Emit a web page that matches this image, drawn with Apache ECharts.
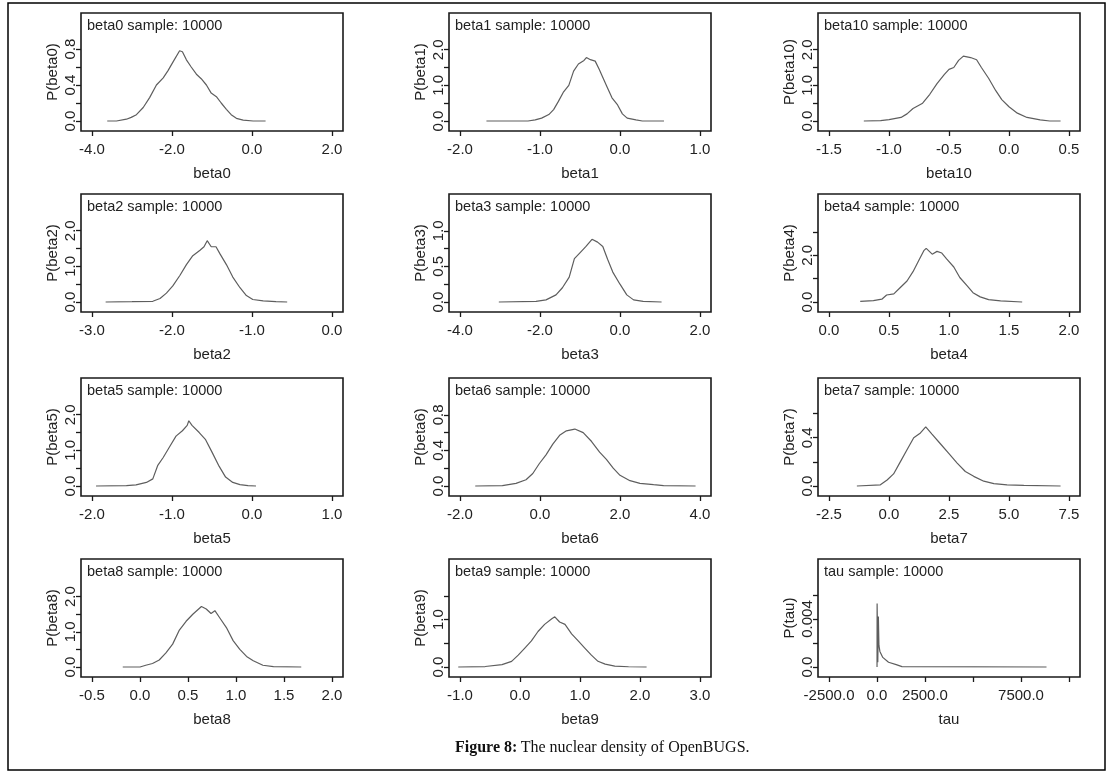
<!DOCTYPE html>
<html>
<head>
<meta charset="utf-8">
<script src="https://cdn.jsdelivr.net/npm/echarts@6/dist/echarts.min.js"></script>
<style>
html,body{margin:0;padding:0;background:#fff;}
#chart{width:1109px;height:774px;}
</style>
</head>
<body>
<div id="chart"></div>
<script>
// ---- panel names (in reading order) ----
const names = ['beta0','beta1','beta10','beta2','beta3','beta4','beta5','beta6','beta7','beta8','beta9','tau'];
const sampleSize = 10000;

// ---- density curves ----
const beta0X = [-3.62,-3.39,-3.14,-3.02,-2.89,-2.72,-2.56,-2.39,-2.22,-2.10,-1.97,-1.81,-1.74,-1.64,-1.52,-1.39,-1.27,-1.14,-1.02,-0.89,-0.77,-0.64,-0.52,-0.39,-0.22,0.03,0.34];
const beta0Y = [0,0,0.02,0.04,0.07,0.15,0.26,0.40,0.48,0.56,0.66,0.78,0.77,0.68,0.60,0.52,0.47,0.40,0.31,0.27,0.20,0.13,0.07,0.03,0.01,0,0];

const beta1X = [-1.67,-1.15,-1.06,-0.98,-0.89,-0.83,-0.77,-0.71,-0.64,-0.58,-0.52,-0.45,-0.42,-0.37,-0.31,-0.26,-0.22,-0.16,-0.10,-0.03,0.03,0.09,0.20,0.28,0.55];
const beta1Y = [0,0,0.03,0.08,0.18,0.32,0.55,0.80,1.00,1.40,1.60,1.70,1.78,1.72,1.68,1.45,1.25,0.95,0.65,0.45,0.20,0.08,0.03,0,0];

const beta10X = [-1.21,-1.07,-1.00,-0.90,-0.85,-0.80,-0.72,-0.66,-0.60,-0.54,-0.50,-0.46,-0.42,-0.38,-0.32,-0.27,-0.23,-0.17,-0.11,-0.06,0,0.07,0.15,0.26,0.34,0.43];
const beta10Y = [0,0.01,0.04,0.10,0.20,0.35,0.50,0.75,1.05,1.30,1.45,1.50,1.70,1.82,1.78,1.72,1.50,1.20,0.85,0.60,0.40,0.22,0.10,0.03,0,0];

const beta2X = [-2.83,-2.5,-2.24,-2.15,-2.07,-1.99,-1.90,-1.82,-1.74,-1.65,-1.60,-1.56,-1.51,-1.45,-1.40,-1.32,-1.24,-1.15,-1.07,-0.99,-0.86,-0.70,-0.56];
const beta2Y = [0,0.01,0.02,0.10,0.25,0.45,0.75,1.05,1.30,1.45,1.55,1.72,1.55,1.55,1.35,1.05,0.70,0.40,0.18,0.07,0.03,0.01,0];

const beta3X = [-3.03,-2.10,-1.85,-1.60,-1.44,-1.27,-1.14,-1.02,-0.85,-0.70,-0.56,-0.43,-0.31,-0.18,0,0.17,0.34,0.58,1.04];
const beta3Y = [0,0.01,0.03,0.10,0.20,0.35,0.61,0.68,0.78,0.88,0.84,0.78,0.60,0.42,0.25,0.10,0.03,0.01,0];

const beta4X = [0.26,0.37,0.44,0.48,0.54,0.59,0.65,0.70,0.75,0.79,0.81,0.86,0.90,0.94,0.98,1.04,1.09,1.15,1.20,1.26,1.33,1.43,1.61];
const beta4Y = [0.03,0.06,0.12,0.30,0.35,0.60,0.90,1.30,1.80,2.20,2.30,2.05,2.17,2.10,1.85,1.50,1.05,0.70,0.40,0.22,0.10,0.05,0];

const beta5X = [-1.95,-1.57,-1.45,-1.32,-1.24,-1.18,-1.11,-1.03,-0.95,-0.87,-0.81,-0.79,-0.75,-0.66,-0.58,-0.50,-0.41,-0.33,-0.24,-0.15,-0.05,0.05];
const beta5Y = [0,0.01,0.03,0.10,0.20,0.57,0.80,1.10,1.40,1.55,1.70,1.83,1.70,1.50,1.30,0.95,0.55,0.25,0.10,0.04,0.01,0];

const beta6X = [-1.62,-0.94,-0.60,-0.35,-0.18,-0.02,0.15,0.32,0.49,0.66,0.87,1.08,1.29,1.49,1.66,1.83,2.00,2.25,2.50,2.84,3.09,3.89];
const beta6Y = [0,0.005,0.03,0.07,0.14,0.25,0.35,0.47,0.57,0.62,0.64,0.60,0.50,0.38,0.30,0.20,0.12,0.06,0.03,0.015,0.005,0];

const beta7X = [-1.34,-0.36,-0.08,0.19,0.47,0.75,1.03,1.31,1.53,1.79,2.14,2.49,2.84,3.18,3.53,3.95,4.37,4.92,5.62,7.15];
const beta7Y = [0,0.01,0.05,0.10,0.20,0.30,0.40,0.44,0.49,0.43,0.35,0.27,0.19,0.12,0.08,0.04,0.02,0.01,0.005,0];

const beta8X = [-0.18,0.00,0.06,0.13,0.20,0.27,0.34,0.41,0.48,0.55,0.64,0.69,0.74,0.78,0.83,0.90,0.97,1.04,1.11,1.18,1.28,1.39,1.68];
const beta8Y = [0,0,0.05,0.10,0.20,0.40,0.65,1.05,1.30,1.50,1.72,1.65,1.52,1.60,1.40,1.12,0.75,0.50,0.30,0.18,0.05,0.01,0];

const beta9X = [-1.03,-0.58,-0.30,-0.14,-0.03,0.08,0.19,0.30,0.41,0.53,0.58,0.66,0.75,0.86,0.97,1.08,1.19,1.30,1.42,1.58,1.81,2.11];
const beta9Y = [0,0.01,0.05,0.12,0.25,0.40,0.55,0.75,0.90,1.02,1.06,0.95,0.90,0.70,0.55,0.40,0.25,0.12,0.06,0.02,0.005,0];

const tauX = [0,5,40,70,100,150,300,600,1000,1300,8830];
const tauY = [0,0.0053,0.0004,0.0042,0.0018,0.0013,0.0008,0.0004,0.0002,0.00003,0];

const curvesX = [beta0X,beta1X,beta10X,beta2X,beta3X,beta4X,beta5X,beta6X,beta7X,beta8X,beta9X,tauX];
const curvesY = [beta0Y,beta1Y,beta10Y,beta2Y,beta3Y,beta4Y,beta5Y,beta6Y,beta7Y,beta8Y,beta9Y,tauY];

// ---- axis ticks (tick marks) and labelled ticks ----
const xTicks = [
  [-4,-2,0,2],[-2,-1,0,1],[-1.5,-1,-0.5,0,0.5],
  [-3,-2,-1,0],[-4,-2,0,2],[0,0.5,1,1.5,2],
  [-2,-1,0,1],[-2,0,2,4],[-2.5,0,2.5,5,7.5],
  [-0.5,0,0.5,1,1.5,2],[-1,0,1,2,3],[-2500,0,2500,5000,7500,10000]
];
const xLabels = [
  [-4,-2,0,2],[-2,-1,0,1],[-1.5,-1,-0.5,0,0.5],
  [-3,-2,-1,0],[-4,-2,0,2],[0,0.5,1,1.5,2],
  [-2,-1,0,1],[-2,0,2,4],[-2.5,0,2.5,5,7.5],
  [-0.5,0,0.5,1,1.5,2],[-1,0,1,2,3],[-2500,0,2500,7500]
];
const yTicks = [
  [0,0.2,0.4,0.6,0.8],[0,0.5,1,1.5,2],[0,0.5,1,1.5,2],
  [0,0.5,1,1.5,2],[0,0.25,0.5,0.75,1],[0,1,2,3],
  [0,0.5,1,1.5,2],[0,0.2,0.4,0.6,0.8],[0,0.2,0.4,0.6],
  [0,0.5,1,1.5,2],[0,0.5,1,1.5],[0,0.002,0.004,0.006]
];
const yLabels = [
  [0,0.4,0.8],[0,1,2],[0,1,2],
  [0,1,2],[0,0.5,1],[0,2],
  [0,1,2],[0,0.4,0.8],[0,0.4],
  [0,1,2],[0,1],[0,0.004]
];
// upper end of each density axis (plot box top)
const yTop = [1.2,3.03,3.03, 3.03,1.516,4.63, 3.03,1.214,0.895, 3.07,2.28,0.009];

// ---- layout ----
const colLeft = [81,449,818];
const rowTop = [13,194,378,559];
const boxW = 262, boxH = 118;
const FONT = '"Liberation Sans", Arial, sans-serif';
const TXT = '#222';

function fmt(v){ let s = String(v); if (s.indexOf('.') < 0 && s.indexOf('e') < 0) s += '.0'; return s; }

const grids = [], xAxes = [], yAxes = [], series = [], titles = [];
names.forEach((nm, i) => {
  const c = i % 3, r = Math.floor(i / 3);
  const left = colLeft[c], top = rowTop[r];
  grids.push({ left: left, top: top, width: boxW, height: boxH, show: true,
    borderColor: '#1a1a1a', borderWidth: 1.6, backgroundColor: 'transparent', outerBoundsMode: 'none' });
  const xt = xTicks[i];
  const pad = 0.046 * (xt[xt.length-1] - xt[0]);
  xAxes.push({ type: 'value', gridIndex: i, position: 'bottom',
    min: xt[0] - pad, max: xt[xt.length-1] + pad,
    splitLine: { show: false },
    axisLine: { show: false, onZero: false },
    axisTick: { show: true, inside: false, length: 5, customValues: xTicks[i], lineStyle: { color: '#1a1a1a', width: 1.3 } },
    axisLabel: { customValues: xLabels[i], formatter: fmt, margin: 11, fontSize: 15, fontFamily: FONT, color: TXT, showMinLabel: true, showMaxLabel: true },
    name: nm, nameLocation: 'middle', nameGap: 35,
    nameTextStyle: { fontSize: 15, fontFamily: FONT, color: TXT }
  });
  const yMax = yTop[i];
  yAxes.push({ type: 'value', gridIndex: i, position: 'left',
    min: -yMax * 0.0926, max: yMax,
    splitLine: { show: false },
    axisLine: { show: false, onZero: false },
    axisTick: { show: true, inside: false, length: 5, customValues: yTicks[i], lineStyle: { color: '#1a1a1a', width: 1.3 } },
    axisLabel: { customValues: yLabels[i], formatter: fmt, rotate: 90, margin: 3, fontSize: 15, fontFamily: FONT, color: TXT, showMinLabel: true, showMaxLabel: true },
    name: 'P(' + nm + ')', nameLocation: 'middle', nameGap: 21, nameRotate: 90,
    nameTextStyle: { fontSize: 15, fontFamily: FONT, color: TXT }
  });
  series.push({ type: 'line', xAxisIndex: i, yAxisIndex: i, showSymbol: false, symbol: 'none',
    data: curvesX[i].map((x, k) => [x, curvesY[i][k]]),
    lineStyle: { color: '#5e5e5e', width: 1.2 }, silent: true, animation: false });
  titles.push({ text: nm + ' sample: ' + sampleSize, left: left + 6, top: top + 5, padding: 0,
    textStyle: { fontSize: 14.5, fontWeight: 'normal', fontFamily: FONT, color: TXT } });
});

const chart = echarts.init(document.getElementById('chart'), null, { renderer: 'canvas' });
chart.setOption({
  animation: false,
  backgroundColor: '#fff',
  title: titles,
  grid: grids,
  xAxis: xAxes,
  yAxis: yAxes,
  series: series,
  graphic: [
    { type: 'rect', shape: { x: 8, y: 3, width: 1097, height: 767 }, style: { fill: 'none', stroke: '#000', lineWidth: 1.5 }, silent: true },
    { type: 'text', left: 455, top: 740, silent: true,
      style: { text: '{b|Figure 8:} {n|The nuclear density of OpenBUGS.}',
        rich: {
          b: { fontFamily: '"Liberation Serif", "DejaVu Serif", serif', fontSize: 16, fontWeight: 'bold', fill: '#111' },
          n: { fontFamily: '"Liberation Serif", "DejaVu Serif", serif', fontSize: 16, fill: '#111' }
        } } }
  ]
});
</script>
</body>
</html>
